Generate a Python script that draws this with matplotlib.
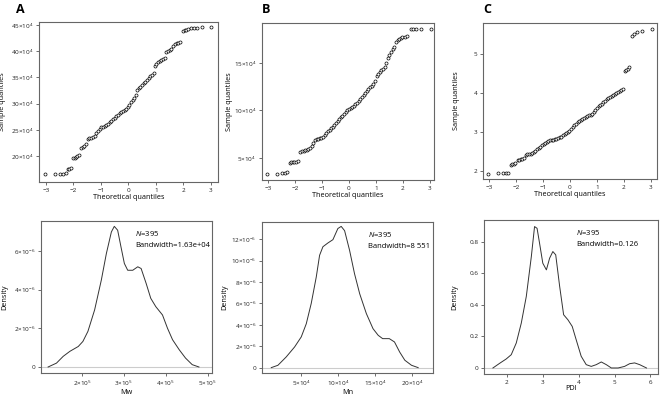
import matplotlib.pyplot as plt

plt.rcParams['font.family'] = ['Open Sans', 'DejaVu Sans']
plt.rcParams['mathtext.fontset'] = 'custom'
plt.rcParams['mathtext.rm'] = 'Open Sans'
plt.rcParams['mathtext.it'] = 'Open Sans:italic'

# QQ DATA (theoretical quantile, sample quantile)
qa_x = [-3.02, -2.67, -2.49, -2.37, -2.28, -2.2, -2.14, -2.08, -2.0, -1.95, -1.9, -1.85, -1.8,
        -1.72, -1.66, -1.6, -1.55, -1.48, -1.42, -1.35, -1.28, -1.22, -1.16, -1.1, -1.04, -0.98,
        -0.92, -0.86, -0.8, -0.74, -0.68, -0.62, -0.56, -0.5, -0.44, -0.38, -0.32, -0.26, -0.2,
        -0.14, -0.08, -0.02, 0.04, 0.1, 0.16, 0.22, 0.28, 0.32, 0.38, 0.44, 0.5, 0.56, 0.62, 0.68,
        0.74, 0.8, 0.86, 0.92, 0.97, 1.02, 1.08, 1.14, 1.2, 1.26, 1.32, 1.38, 1.44, 1.5, 1.56,
        1.64, 1.7, 1.76, 1.82, 1.88, 1.98, 2.04, 2.1, 2.18, 2.28, 2.37, 2.49, 2.67, 3.02]
qa_y = [16.5, 16.5, 16.5, 16.6, 16.8, 17.6, 17.6, 17.7, 19.6, 19.7, 19.9, 20.0, 20.2,
        21.6, 21.8, 22.0, 22.2, 23.2, 23.4, 23.5, 23.7, 23.8, 24.4, 24.8, 25.2, 25.5,
        25.6, 25.8, 26.0, 26.2, 26.5, 26.7, 27.0, 27.3, 27.6, 27.9, 28.2, 28.4, 28.6,
        28.8, 29.0, 29.3, 29.8, 30.3, 30.7, 31.1, 31.6, 32.5, 32.9, 33.2, 33.5, 33.9, 34.2, 34.5,
        34.9, 35.2, 35.5, 35.9, 37.2, 37.6, 37.9, 38.1, 38.3, 38.5, 38.7, 39.9, 40.1, 40.2, 40.4,
        41.0, 41.3, 41.5, 41.6, 41.7, 43.9, 44.0, 44.1, 44.3, 44.4, 44.5, 44.5, 44.6, 44.6]

qb_x = [-3.02, -2.67, -2.49, -2.37, -2.28, -2.2, -2.14, -2.08, -2.02, -1.96, -1.9, -1.8, -1.74,
        -1.68, -1.62, -1.56, -1.5, -1.44, -1.38, -1.32, -1.26, -1.2, -1.14, -1.08, -1.02, -0.96,
        -0.9, -0.84, -0.78, -0.72, -0.66, -0.6, -0.54, -0.48, -0.42, -0.36, -0.3, -0.24, -0.18,
        -0.12, -0.06, 0.0, 0.06, 0.12, 0.18, 0.24, 0.3, 0.36, 0.42, 0.48, 0.54, 0.6, 0.66, 0.72,
        0.78, 0.84, 0.9, 0.96, 1.02, 1.08, 1.14, 1.2, 1.26, 1.32, 1.38, 1.44, 1.5, 1.56, 1.62,
        1.68, 1.74, 1.8, 1.86, 1.92, 1.98, 2.06, 2.14, 2.28, 2.37, 2.49, 2.67, 3.02]
qb_y = [3.33, 3.33, 3.4, 3.45, 3.5, 4.5, 4.55, 4.57, 4.6, 4.62, 4.65, 5.65, 5.7,
        5.75, 5.8, 5.88, 5.95, 6.1, 6.3, 6.6, 6.9, 7.0, 7.05, 7.1, 7.15, 7.25,
        7.4, 7.6, 7.8, 8.0, 8.15, 8.3, 8.5, 8.7, 8.9, 9.1, 9.3, 9.45, 9.65,
        9.85, 10.0, 10.15, 10.3, 10.4, 10.5, 10.65, 10.8, 10.95, 11.15, 11.4, 11.65, 11.85, 12.05, 12.25,
        12.45, 12.6, 12.8, 13.1, 13.6, 13.85, 14.0, 14.2, 14.4, 14.6, 15.0, 15.5, 15.8, 16.1, 16.4,
        16.7, 17.2, 17.4, 17.55, 17.65, 17.7, 17.75, 17.8, 18.5, 18.55, 18.55, 18.6, 18.6]

qc_x = [-3.02, -2.67, -2.49, -2.37, -2.28, -2.2, -2.14, -2.08, -2.02, -1.94, -1.88, -1.82, -1.76,
        -1.7, -1.64, -1.58, -1.52, -1.46, -1.4, -1.34, -1.28, -1.22, -1.16, -1.1, -1.04, -0.98,
        -0.92, -0.86, -0.8, -0.74, -0.68, -0.62, -0.56, -0.5, -0.44, -0.38, -0.32, -0.26, -0.2,
        -0.14, -0.08, -0.02, 0.04, 0.1, 0.16, 0.22, 0.28, 0.34, 0.4, 0.46, 0.52, 0.58, 0.64, 0.7,
        0.76, 0.82, 0.88, 0.94, 1.0, 1.06, 1.12, 1.18, 1.24, 1.3, 1.36, 1.42, 1.48, 1.54, 1.6,
        1.66, 1.72, 1.78, 1.84, 1.9, 1.96, 2.02, 2.08, 2.14, 2.2, 2.28, 2.37, 2.49, 2.67, 3.02]
qc_y = [1.93, 1.95, 1.95, 1.95, 1.96, 2.17, 2.18, 2.19, 2.2, 2.28, 2.3, 2.31, 2.32,
        2.34, 2.42, 2.44, 2.44, 2.45, 2.47, 2.5, 2.53, 2.57, 2.6, 2.63, 2.67, 2.7,
        2.73, 2.75, 2.77, 2.79, 2.8, 2.81, 2.82, 2.83, 2.85, 2.87, 2.89, 2.92, 2.95,
        2.98, 3.01, 3.04, 3.08, 3.13, 3.18, 3.22, 3.26, 3.28, 3.31, 3.33, 3.36, 3.38, 3.41, 3.43,
        3.45, 3.48, 3.51, 3.56, 3.62, 3.66, 3.69, 3.73, 3.77, 3.81, 3.84, 3.87, 3.9, 3.93, 3.95,
        3.98, 4.01, 4.04, 4.06, 4.08, 4.1, 4.58, 4.6, 4.62, 4.67, 5.48, 5.53, 5.56, 5.6, 5.64]

# DENSITY DATA
da_x = [1.19, 1.39, 1.55, 1.71, 1.91, 2.02, 2.14, 2.30, 2.46, 2.58, 2.70, 2.77, 2.85, 2.93, 3.01,
        3.09, 3.21, 3.33, 3.41, 3.53, 3.64, 3.76, 3.92, 4.04, 4.16, 4.32, 4.47, 4.63, 4.79]
da_y = [0.0, 0.2, 0.55, 0.81, 1.06, 1.32, 1.84, 2.95, 4.49, 5.86, 6.98, 7.27, 7.07, 6.2, 5.35,
        5.0, 5.0, 5.18, 5.09, 4.32, 3.55, 3.12, 2.69, 2.0, 1.41, 0.89, 0.46, 0.12, 0.0]

db_x = [0.95, 1.85, 2.97, 4.1, 5.0, 5.68, 6.35, 7.03, 7.48, 7.93, 8.6, 9.28, 9.95, 10.4, 10.86,
        11.53, 12.2, 12.9, 13.8, 14.7, 15.4, 16.0, 16.9, 17.6, 18.3, 19.0, 19.9, 20.8]
db_y = [0.0, 0.22, 1.0, 1.93, 2.87, 4.1, 6.0, 8.47, 10.5, 11.3, 11.65, 11.96, 13.0, 13.2, 12.8,
        10.97, 8.78, 6.9, 5.05, 3.64, 3.02, 2.71, 2.71, 2.4, 1.46, 0.69, 0.22, 0.0]

dc_x = [1.61, 1.80, 1.98, 2.12, 2.26, 2.40, 2.54, 2.68, 2.77, 2.84, 2.91, 3.0, 3.10, 3.19, 3.28,
        3.36, 3.47, 3.58, 3.70, 3.82, 3.93, 4.07, 4.21, 4.35, 4.49, 4.63, 4.77, 4.91, 5.1, 5.28,
        5.42, 5.56, 5.70, 5.89]
dc_y = [0.0, 0.03, 0.057, 0.084, 0.158, 0.284, 0.453, 0.705, 0.895, 0.884, 0.789, 0.663, 0.621,
        0.695, 0.737, 0.716, 0.516, 0.337, 0.305, 0.263, 0.179, 0.074, 0.021, 0.01, 0.021, 0.038,
        0.021, 0.0, 0.0, 0.01, 0.027, 0.032, 0.021, 0.0]

N = 395
bandwidths = ['1.63e+04', '8 551', '0.126']
xlabels = ['Mw', 'Mn', 'PDI']
panel_letters = ['A', 'B', 'C']

def sci(m, e):
    return r'$\mathregular{%d{\times}10^{%d}}$' % (m, e)

fig = plt.figure(figsize=(6.6, 3.97), dpi=100)

def style(ax):
    for s in ax.spines.values():
        s.set_color('#666666')
        s.set_linewidth(0.8)
    ax.tick_params(direction='out', length=2.5, width=0.6, color='#555555',
                   labelsize=4.6, pad=1.5, labelcolor='#222222')

top_pos = [[0.059, 0.5416, 0.271, 0.403],
           [0.397, 0.5466, 0.2606, 0.396],
           [0.7318, 0.549, 0.2636, 0.393]]
bot_pos = [[0.0621, 0.0605, 0.259, 0.383],
           [0.397, 0.0605, 0.259, 0.380],
           [0.7333, 0.058, 0.2636, 0.388]]

qq = [(qa_x, qa_y), (qb_x, qb_y), (qc_x, qc_y)]
qq_ylim = [(15.04, 45.57), (2.7, 19.2), (1.8, 5.8)]
qq_xlim = [(-3.25, 3.25), (-3.22, 3.15), (-3.22, 3.22)]
qq_yticks = [[20, 25, 30, 35, 40, 45], [5, 10, 15], [2, 3, 4, 5]]
qq_ylab_x = [-0.185, -0.17, -0.13]

for i in range(3):
    ax = fig.add_axes(top_pos[i])
    style(ax)
    ax.plot(qq[i][0], qq[i][1], 'o', mfc='white', mec='black', ms=2.2, mew=0.5)
    ax.set_xlim(*qq_xlim[i])
    ax.set_ylim(*qq_ylim[i])
    ax.set_xticks([-3, -2, -1, 0, 1, 2, 3])
    ax.set_yticks(qq_yticks[i])
    if i < 2:
        ax.set_yticklabels([sci(v, 4) for v in qq_yticks[i]])
    ax.set_xlabel('Theoretical quantiles', fontsize=5.2, labelpad=1)
    ax.set_ylabel('Sample quantiles', fontsize=5.2)
    ax.yaxis.set_label_coords(qq_ylab_x[i], 0.5)
    fig.text(top_pos[i][0] - (0.035 if i == 0 else 0.0), 0.975, panel_letters[i],
             fontsize=9, fontweight='bold', ha='left', va='center')

dens = [(da_x, da_y), (db_x, db_y), (dc_x, dc_y)]
d_xlim = [(1.02, 5.1), (-0.3, 22.8), (1.36, 6.21)]
d_ylim = [(-0.31, 7.55), (-0.5, 13.6), (-0.038, 0.937)]
d_xticks = [[2, 3, 4, 5], [5, 10, 15, 20], [2, 3, 4, 5, 6]]
d_yticks = [[0, 2, 4, 6], [0, 2, 4, 6, 8, 10, 12], [0, 0.2, 0.4, 0.6, 0.8]]
d_xexp = [5, 4, None]
d_ylab_x = [-0.19, -0.2, -0.15]
txt_x = [0.55, 0.62, 0.53]

for i in range(3):
    ax = fig.add_axes(bot_pos[i])
    style(ax)
    ax.axhline(0, color='#cccccc', lw=0.8, zorder=1)
    ax.plot(dens[i][0], dens[i][1], color='#333333', lw=0.7, zorder=2)
    ax.set_xlim(*d_xlim[i])
    ax.set_ylim(*d_ylim[i])
    ax.set_xticks(d_xticks[i])
    ax.set_yticks(d_yticks[i])
    if d_xexp[i] is not None:
        ax.set_xticklabels([sci(v, d_xexp[i]) for v in d_xticks[i]])
        ax.set_yticklabels(['0'] + [sci(v, -6) for v in d_yticks[i][1:]])
    else:
        ax.set_yticklabels(['0'] + ['%.1f' % v for v in d_yticks[i][1:]])
    ax.set_xlabel(xlabels[i], fontsize=5.2, labelpad=0.5)
    ax.set_ylabel('Density', fontsize=5.2)
    ax.yaxis.set_label_coords(d_ylab_x[i], 0.5)
    ax.text(txt_x[i], 0.92, r'$\mathit{N}$=%d' % N, transform=ax.transAxes,
            fontsize=5.5, ha='left', va='center')
    ax.text(txt_x[i], 0.84, 'Bandwidth=' + bandwidths[i], transform=ax.transAxes,
            fontsize=5.5, ha='left', va='center')

fig.savefig('out.png', dpi=100)
